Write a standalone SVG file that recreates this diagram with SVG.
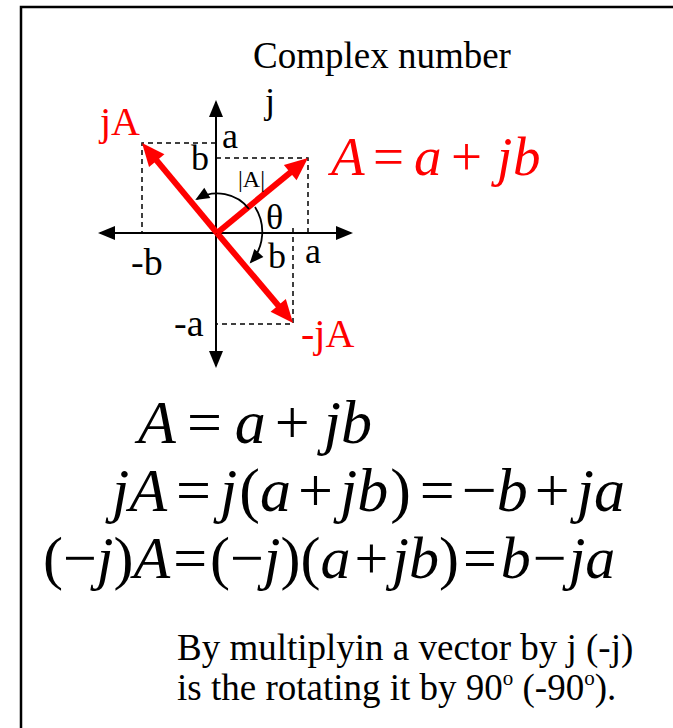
<svg xmlns="http://www.w3.org/2000/svg" width="673" height="728" viewBox="0 0 673 728">
<style>
.t{font-family:"Liberation Serif","Times New Roman",serif;fill:#000}
.r{fill:#f00}
.i{font-style:italic}
.ax{stroke:#000;stroke-width:2;fill:none}
.ds{stroke:#000;stroke-width:1.5;stroke-dasharray:5 4;fill:none}
.vec{stroke:#f00;stroke-width:6;fill:none}
.arc{stroke:#000;stroke-width:1.8;fill:none}
</style>
<defs>
<marker id="ah" markerUnits="userSpaceOnUse" viewBox="-12 -12 26 24" refX="0" refY="0" markerWidth="26" markerHeight="24" orient="auto" overflow="visible">
<path d="M12,0 L-11,-10 L-11,10 z" fill="#f00"/>
</marker>
<marker id="bh" markerUnits="userSpaceOnUse" viewBox="-16 -8 18 16" refX="0" refY="0" markerWidth="18" markerHeight="16" orient="auto" overflow="visible">
<path d="M2,0 L-15,-7 L-15,7 z" fill="#000"/>
</marker>
<marker id="ch" markerUnits="userSpaceOnUse" viewBox="-14 -7 16 14" refX="0" refY="0" markerWidth="16" markerHeight="14" orient="auto" overflow="visible">
<path d="M2,0 L-12,-6 L-12,6 z" fill="#000"/>
</marker>
</defs>
<g id="frame">
<path d="M21,728 V7 H673" stroke="#000" stroke-width="2.5" fill="none"/>
</g>
<g id="title"><text class="t" x="253" y="68" font-size="37">Complex number</text></g>
<g id="connectors">
<line class="ax" x1="120" y1="233" x2="351" y2="233" marker-end="url(#bh)"/>
<line class="ax" x1="330" y1="233" x2="100" y2="233" marker-end="url(#bh)"/>
<line class="ax" x1="216" y1="340" x2="216" y2="102" marker-end="url(#bh)"/>
<line class="ax" x1="216" y1="120" x2="216" y2="366" marker-end="url(#bh)"/>
<path class="ds" d="M216,158 H308 V233"/>
<path class="ds" d="M216,143 H142 V233"/>
<path class="ds" d="M293,228 V324 H216"/>
<line class="vec" x1="217" y1="233" x2="298.7" y2="165.6" marker-end="url(#ah)"/>
<line class="vec" x1="217" y1="233" x2="149.7" y2="152.2" marker-end="url(#ah)"/>
<line class="vec" x1="217" y1="233" x2="285.3" y2="313.8" marker-end="url(#ah)"/>
<path class="arc" d="M249,209 A40,40 0 0,0 197,199" marker-end="url(#ch)"/>
<path class="arc" d="M255,207 A46,46 0 0,1 251,262" marker-end="url(#ch)"/>
</g>
<g id="labels">
<text class="t" x="265" y="113" font-size="36">j</text>
<text class="t r" x="100" y="135" font-size="40">jA</text>
<text class="t" x="222" y="148" font-size="36">a</text>
<text class="t" x="191" y="170" font-size="36">b</text>
<text class="t" x="238" y="187" font-size="24">|A|</text>
<text class="t" x="266" y="229" font-size="36">θ</text>
<text class="t" x="131" y="275" font-size="38">-b</text>
<text class="t" x="268" y="268" font-size="36">b</text>
<text class="t" x="305" y="263" font-size="36">a</text>
<text class="t" x="174" y="336" font-size="38">-a</text>
<text class="t r" x="301" y="347" font-size="40">-jA</text>
</g>
<g id="eqA" class="t r" font-size="55">
<text y="175"><tspan class="i" x="331">A</tspan><tspan x="373">=</tspan><tspan class="i" x="414">a</tspan><tspan x="451">+</tspan><tspan class="i" x="497">j</tspan><tspan class="i" x="513">b</tspan></text>
</g>
<g id="eq1" class="t" font-size="62">
<text x="138" y="443"><tspan class="i">A</tspan><tspan dx="11">=</tspan><tspan class="i" dx="13">a</tspan><tspan dx="9">+</tspan><tspan class="i" dx="14">jb</tspan></text>
</g>
<g id="eq2" class="t" font-size="62">
<text x="112" y="511"><tspan class="i">jA</tspan><tspan dx="9">=</tspan><tspan class="i" dx="9">j</tspan><tspan dx="2">(</tspan><tspan class="i">a</tspan><tspan dx="7">+</tspan><tspan class="i" dx="7">jb</tspan><tspan dx="2">)</tspan><tspan dx="9">=</tspan><tspan dx="7">−</tspan><tspan class="i">b</tspan><tspan dx="7">+</tspan><tspan class="i" dx="7">ja</tspan></text>
</g>
<g id="eq3" class="t" font-size="60">
<text x="43" y="578"><tspan>(−</tspan><tspan class="i">j</tspan><tspan>)</tspan><tspan class="i">A</tspan><tspan dx="3">=</tspan><tspan dx="3">(−</tspan><tspan class="i">j</tspan><tspan>)(</tspan><tspan class="i">a</tspan><tspan dx="4">+</tspan><tspan class="i" dx="4">jb</tspan><tspan>)</tspan><tspan dx="4">=</tspan><tspan class="i" dx="4">b</tspan><tspan dx="2">−</tspan><tspan class="i" dx="2">ja</tspan></text>
</g>
<g id="note" class="t" font-size="37">
<text x="177" y="660">By multiplyin a vector by j (-j)</text>
<text x="177" y="700">is the rotating it by 90<tspan font-size="21" dy="-15">o</tspan><tspan dy="15"> (-90</tspan><tspan font-size="21" dy="-15">o</tspan><tspan dy="15">).</tspan></text>
</g>
</svg>
